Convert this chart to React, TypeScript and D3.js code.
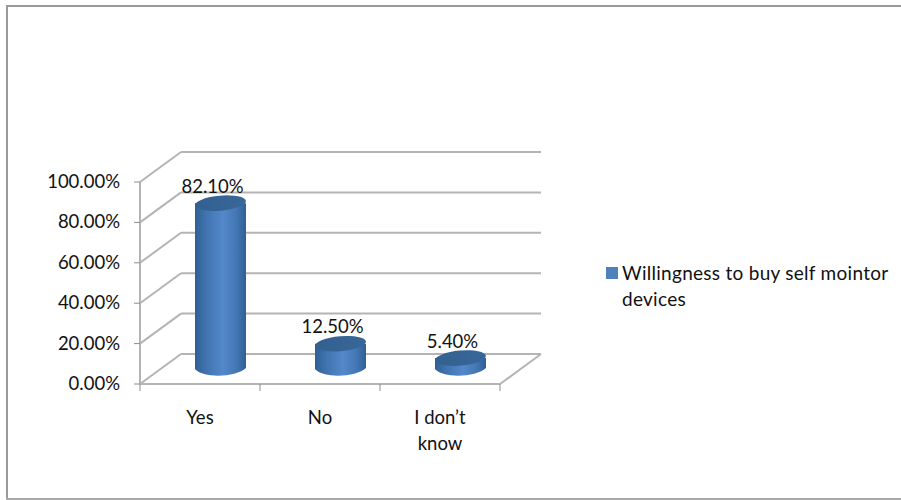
import React from "react";
import * as d3 from "d3";

const categories = ["Yes", "No", "I don’t know"];
const values = [82.1, 12.5, 5.4];
const valueLabels = ["82.10%", "12.50%", "5.40%"];
const tickValues = [0, 20, 40, 60, 80, 100];
const legendLines = ["Willingness to buy self mointor", "devices"];

const font = "Lato, 'Open Sans', sans-serif";
const grid = "#b4b4b4";
const depth = { x: 41, y: -30 };

const y = d3.scaleLinear().domain([0, 100]).range([384, 182]);
const x = d3.scaleBand<string>().domain(categories).range([140, 500]);

// One cylinder: body with a horizontal shade, a darker tilted top cap.
function Cylinder({ cx, base, top }: { cx: number; base: number; top: number }) {
  const rx = 25.5;
  const ry = 7.5;
  const tilt = -5;
  const body = d3.path();
  body.moveTo(cx - rx, top);
  body.lineTo(cx - rx, base);
  body.bezierCurveTo(cx - rx + 8, base + ry + 2, cx + rx - 10, base + ry + 1, cx + rx, base - 1);
  body.lineTo(cx + rx, top);
  body.closePath();
  return (
    <g>
      <path d={body.toString()} fill="url(#cylinderShade)" />
      <ellipse
        cx={cx}
        cy={top}
        rx={rx}
        ry={ry}
        fill="url(#capShade)"
        transform={`rotate(${tilt} ${cx} ${top})`}
      />
    </g>
  );
}

export default function App() {
  const mid = (v: number) => y(v) + depth.y / 2;
  return (
    <svg
      width={901}
      height={500}
      style={{ position: "absolute", left: 0, top: 0, background: "#fff" }}
      fontFamily={font}
      fontSize={18.5}
      fill="#111"
    >
      <defs>
        <linearGradient id="cylinderShade" x1="0" x2="1" y1="0" y2="0">
          <stop offset="0" stopColor="#2f5f94" />
          <stop offset="0.2" stopColor="#3f72ad" />
          <stop offset="0.55" stopColor="#5388ca" />
          <stop offset="0.8" stopColor="#4478b5" />
          <stop offset="1" stopColor="#315f93" />
        </linearGradient>
        <linearGradient id="capShade" x1="0" x2="1" y1="0" y2="0">
          <stop offset="0" stopColor="#33608f" />
          <stop offset="1" stopColor="#376799" />
        </linearGradient>
      </defs>

      {/* Frame: heavier on the top and left */}
      <path d="M7 499V6H901" fill="none" stroke="#9a9a9a" strokeWidth={2} />
      <path d="M6 499H901" fill="none" stroke="#a8a8a8" strokeWidth={2} />

      {/* Back wall gridlines and the receding floor and wall edges */}
      {tickValues.map((t) => (
        <g key={t} stroke={grid} strokeWidth={2} fill="none">
          <line x1={x.range()[0]} y1={y(t)} x2={x.range()[0] + depth.x} y2={y(t) + depth.y} />
          <line x1={x.range()[0] + depth.x} y1={y(t) + depth.y} x2={x.range()[1] + depth.x} y2={y(t) + depth.y} />
        </g>
      ))}
      <line x1={x.range()[1]} y1={y(0)} x2={x.range()[1] + depth.x} y2={y(0) + depth.y} stroke={grid} strokeWidth={2} />

      {/* Front axes */}
      <line x1={140} y1={y(0)} x2={140} y2={y(100)} stroke={grid} strokeWidth={2} />
      <line x1={140} y1={y(0)} x2={500} y2={y(0)} stroke={grid} strokeWidth={2} />
      {tickValues.map((t) => (
        <g key={t}>
          <line x1={134} x2={140} y1={y(t)} y2={y(t)} stroke="#8c8c8c" />
          <text x={120} y={y(t) + 6} textAnchor="end">
            {t.toFixed(2)}%
          </text>
        </g>
      ))}
      {[...categories.map((c) => x(c)!), 500].map((p) => (
        <line key={p} x1={p} x2={p} y1={384} y2={391} stroke="#8c8c8c" />
      ))}

      {/* Category labels, the long one wrapped over two lines */}
      <text x={x("Yes")! + x.bandwidth() / 2} y={424} textAnchor="middle">Yes</text>
      <text x={x("No")! + x.bandwidth() / 2} y={424} textAnchor="middle">No</text>
      <text x={x("I don’t know")! + x.bandwidth() / 2} y={424} textAnchor="middle">I don’t</text>
      <text x={x("I don’t know")! + x.bandwidth() / 2} y={450} textAnchor="middle">know</text>

      {/* Cylinders and their value labels */}
      {categories.map((c, i) => {
        const cx = x(c)! + x.bandwidth() / 2 + depth.x / 2;
        const top = mid(values[i]);
        return (
          <g key={c}>
            <Cylinder cx={cx} base={mid(0)} top={top} />
            <text x={cx - 8} y={top - 10.5} textAnchor="middle">
              {valueLabels[i]}
            </text>
          </g>
        );
      })}

      {/* Legend */}
      <rect x={606} y={267} width={12} height={12} fill="#4f81bd" />
      <text x={622} y={280} fontSize={19} letterSpacing={0.28}>{legendLines[0]}</text>
      <text x={622} y={306} fontSize={19} letterSpacing={0.28}>{legendLines[1]}</text>
    </svg>
  );
}
